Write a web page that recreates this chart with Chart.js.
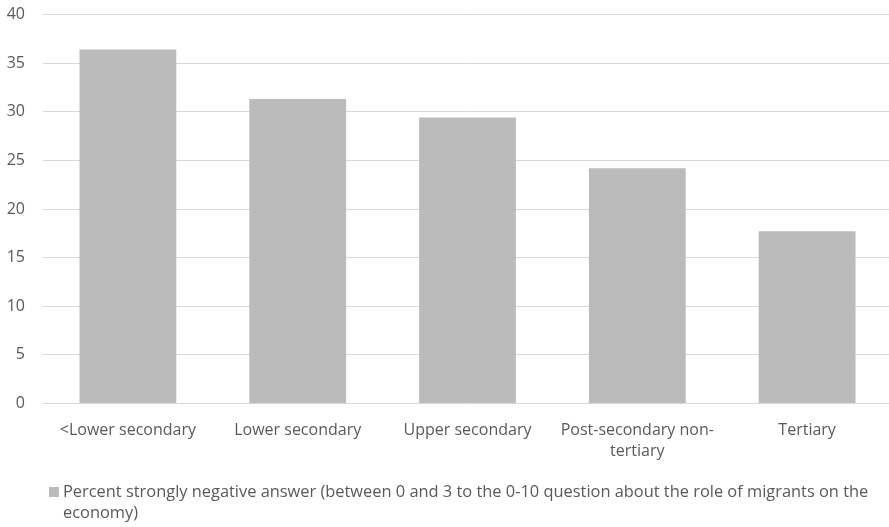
<!DOCTYPE html>
<html>
<head>
<meta charset="utf-8">
<title>Strongly negative views on migrants by education level</title>
<script src="https://cdn.jsdelivr.net/npm/chart.js@4/dist/chart.umd.min.js"></script>
<style>
  html, body { margin: 0; padding: 0; background: #ffffff; overflow: hidden; }
  #wrap { position: relative; width: 892px; height: 527px; }
</style>
</head>
<body>
<div id="wrap"><canvas id="chart" width="892" height="527"></canvas></div>
<script>
// Education levels (multi-line where the label wraps)
const categories = [
  '<Lower secondary',
  'Lower secondary',
  'Upper secondary',
  ['Post-secondary non-', 'tertiary'],
  'Tertiary'
];

// Share of respondents answering 0-3 on the 0-10 scale, in percent
const percentNegative = [36.4, 31.3, 29.4, 24.2, 17.7];

// Legend text, split over two lines
const seriesLabel = [
  'Percent strongly negative answer (between 0 and 3 to the 0-10 question about the role of migrants on the',
  'economy)'
];

// Value axis ticks
const yTicks = [0, 5, 10, 15, 20, 25, 30, 35, 40];

const FONT = "'Open Sans', 'DejaVu Sans', sans-serif";
const TEXT = '#595959';
const BAR = '#BBBBBB';
const GRID = '#D9D9D9';

// Draws the wrapped legend below the category labels
const wrappedLegend = {
  id: 'wrappedLegend',
  afterDraw(chart) {
    const ctx = chart.ctx;
    const ds = chart.data.datasets[0];
    const lines = ds.legendLines;
    ctx.save();
    ctx.fillStyle = ds.backgroundColor;
    ctx.fillRect(49, 487, 10, 10);
    ctx.fillStyle = TEXT;
    ctx.font = '16.4px ' + FONT;
    ctx.textAlign = 'left';
    ctx.textBaseline = 'alphabetic';
    lines.forEach((line, i) => ctx.fillText(line, 63, 497 + i * 21));
    ctx.restore();
  }
};

new Chart(document.getElementById('chart'), {
  type: 'bar',
  data: {
    labels: categories,
    datasets: [{
      label: seriesLabel.join(' '),
      legendLines: seriesLabel,
      data: percentNegative,
      backgroundColor: BAR,
      borderWidth: 0,
      categoryPercentage: 1.0,
      barPercentage: 0.57
    }]
  },
  options: {
    responsive: false,
    animation: false,
    devicePixelRatio: 1,
    layout: { padding: { top: 14.5, right: 0, bottom: 0, left: 0 } },
    plugins: {
      legend: { display: false },
      tooltip: { enabled: false }
    },
    scales: {
      x: {
        grid: { display: false, drawTicks: false },
        border: { display: false },
        ticks: {
          color: TEXT,
          font: { family: FONT, size: 16, lineHeight: 1.3125 },
          padding: 16.5,
          maxRotation: 0,
          autoSkip: false
        },
        afterFit(scale) { scale.height = 123.5; }
      },
      y: {
        min: 0,
        max: 40,
        afterBuildTicks(scale) { scale.ticks = yTicks.map(v => ({ value: v })); },
        grid: { color: GRID, lineWidth: 1, drawTicks: false },
        border: { display: false },
        ticks: {
          color: TEXT,
          font: { family: FONT, size: 16 },
          padding: 18
        },
        afterFit(scale) {
          scale.width = 43;
          scale.paddingTop = 0;
          scale.paddingBottom = 0;
        }
      }
    }
  },
  plugins: [wrappedLegend]
});
</script>
</body>
</html>
